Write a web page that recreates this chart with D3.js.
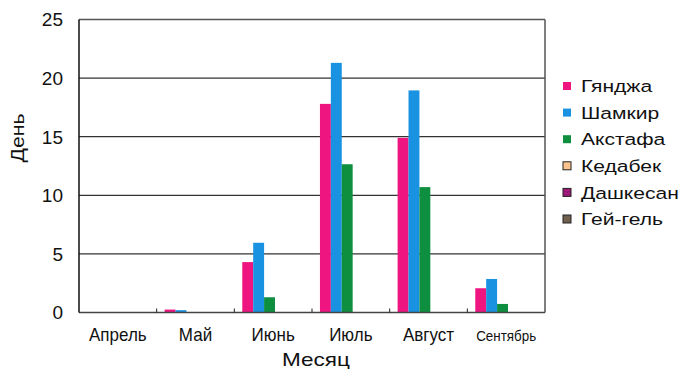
<html>
<head>
    <script src="https://d3js.org/d3.v7.min.js"></script>
    <style>
        body { margin: 0; background: #fff; }
        text { font-family: Arial, "Liberation Sans", sans-serif; fill: #111; }
    </style>
</head>
<body>
    <svg id="plot" width="682" height="369"></svg>
    <script>
        // data
        const months = ["Апрель", "Май", "Июнь", "Июль", "Август", "Сентябрь"];
        const regions = ["Гянджа", "Шамкир", "Акстафа", "Кедабек", "Дашкесан", "Гей-гель"];
        const ganja    = [0, 0.25, 4.3, 17.8, 14.9, 2.07];
        const shamkir  = [0, 0.2, 5.95, 21.3, 18.95, 2.86];
        const akstafa  = [0, 0, 1.3, 12.65, 10.7, 0.73];
        const kedabek  = [0, 0, 0, 0, 0, 0];
        const dashkesan = [0, 0, 0, 0, 0, 0];
        const geygel   = [0, 0, 0, 0, 0, 0];
        const yTicks = [0, 5, 10, 15, 20, 25];
        const series = [ganja, shamkir, akstafa, kedabek, dashkesan, geygel];
        const colors = ["#ee1580", "#1a92e2", "#0d8f3f", "#fcc48c", "#8a1470", "#70604e"];

        const svg = d3.select("#plot");
        const plot = { left: 79, right: 545, top: 19.5, bottom: 312.5 };

        const x0 = d3.scaleBand().domain(months).range([plot.left, plot.right]).padding(0);
        const x1 = d3.scaleBand().domain(regions).range([0, x0.bandwidth()])
            .paddingInner(0).paddingOuter(0.56).align(0.65);
        const y = d3.scaleLinear().domain([0, 25]).range([plot.bottom, plot.top]);

        // the text in the original is drawn a bit wider than the font, stretch to match
        function stretch(sel, x, yPos, widthOf, rot) {
            sel.each(function (d) {
                const k = widthOf(d) / this.getComputedTextLength();
                d3.select(this).attr("transform",
                    `translate(${x},${yPos})` + (rot ? " rotate(-90)" : "") + ` scale(${k},1)`);
            });
        }

        // pattern for Дашкесан
        const defs = svg.append("defs");
        const pat = defs.append("pattern")
            .attr("id", "wave")
            .attr("width", 4).attr("height", 3)
            .attr("patternUnits", "userSpaceOnUse");
        pat.append("rect").attr("width", 4).attr("height", 3).attr("fill", "#8a1470");
        pat.append("path").attr("d", "M0,1.5 L2,0.5 L4,1.5").attr("stroke", "#d02a90")
            .attr("stroke-width", 0.8).attr("fill", "none");

        // gridlines
        svg.append("g").selectAll("line")
            .data(yTicks.filter(d => d > 0))
            .join("line")
            .attr("x1", plot.left).attr("x2", plot.right)
            .attr("y1", d => y(d)).attr("y2", d => y(d))
            .attr("stroke", d => d === 25 ? "#555" : "#333")
            .attr("stroke-width", d => d === 25 ? 1.6 : 1.2);

        // right border
        svg.append("line")
            .attr("x1", plot.right).attr("x2", plot.right)
            .attr("y1", plot.top).attr("y2", plot.bottom)
            .attr("stroke", "#555").attr("stroke-width", 1.5);

        // bars
        const groups = svg.append("g").selectAll("g")
            .data(months)
            .join("g")
            .attr("transform", d => `translate(${x0(d)},0)`);

        groups.selectAll("rect")
            .data((m, i) => regions.map((r, k) => ({ r: r, k: k, v: series[k][i] })))
            .join("rect")
            .attr("x", d => x1(d.r))
            .attr("width", x1.bandwidth())
            .attr("y", d => y(d.v))
            .attr("height", d => y(0) - y(d.v))
            .attr("fill", d => colors[d.k]);

        // x axis: baseline + inner ticks at category boundaries
        svg.append("line")
            .attr("x1", plot.left).attr("x2", plot.right)
            .attr("y1", y(0)).attr("y2", y(0))
            .attr("stroke", "#444").attr("stroke-width", 1.5);
        svg.append("g").selectAll("line")
            .data(months.slice(1))
            .join("line")
            .attr("x1", d => x0(d)).attr("x2", d => x0(d))
            .attr("y1", y(0)).attr("y2", y(0) - 4)
            .attr("stroke", "#222").attr("stroke-width", 1);

        svg.append("g").selectAll("text")
            .data(months)
            .join("text")
            .attr("transform", d => `translate(${x0(d) + x0.bandwidth() / 2},341) scale(1,1.1)`)
            .attr("text-anchor", "middle")
            .attr("font-size", d => d === "Сентябрь" ? 14 : 17)
            .attr("textLength", d => d === "Сентябрь" ? 60 : null)
            .attr("lengthAdjust", "spacingAndGlyphs")
            .text(d => d);

        // y axis
        svg.append("line")
            .attr("x1", plot.left).attr("x2", plot.left)
            .attr("y1", plot.top).attr("y2", plot.bottom)
            .attr("stroke", "#111").attr("stroke-width", 1.5);

        svg.append("g").selectAll("text")
            .data(yTicks)
            .join("text")
            .attr("x", 63)
            .attr("y", d => y(d))
            .attr("dy", "0.36em")
            .attr("text-anchor", "end")
            .attr("font-size", 19)
            .text(d => d);

        // axis titles
        svg.append("text")
            .datum("Месяц")
            .attr("text-anchor", "middle")
            .attr("font-size", 18)
            .text(d => d)
            .call(stretch, 316, 366, () => 68, false);
        svg.append("text")
            .datum("День")
            .attr("text-anchor", "middle")
            .attr("font-size", 18)
            .text(d => d)
            .call(stretch, 24, 138, () => 49, true);

        // legend
        const legend = svg.append("g").attr("transform", "translate(563,86)");
        const items = legend.selectAll("g")
            .data(regions)
            .join("g")
            .attr("transform", (d, i) => `translate(0,${i * 26.6})`);
        items.append("rect")
            .attr("x", 0).attr("y", -4)
            .attr("width", 8).attr("height", 8)
            .attr("fill", (d, i) => i === 4 ? "url(#wave)" : colors[i])
            .attr("stroke", (d, i) => i >= 3 ? "#222" : "none")
            .attr("stroke-width", 1);
        const legendText = items.append("text")
            .attr("dy", "0.36em")
            .attr("font-size", 17)
            .text(d => d);
        // scale all legend labels by one factor so the longest ends near the edge
        const longest = d3.max(legendText.nodes(), n => n.getComputedTextLength());
        const kLeg = 98 / longest;
        legendText.attr("transform", `translate(18,0) scale(${kLeg},1)`);
    </script>
</body>
</html>
